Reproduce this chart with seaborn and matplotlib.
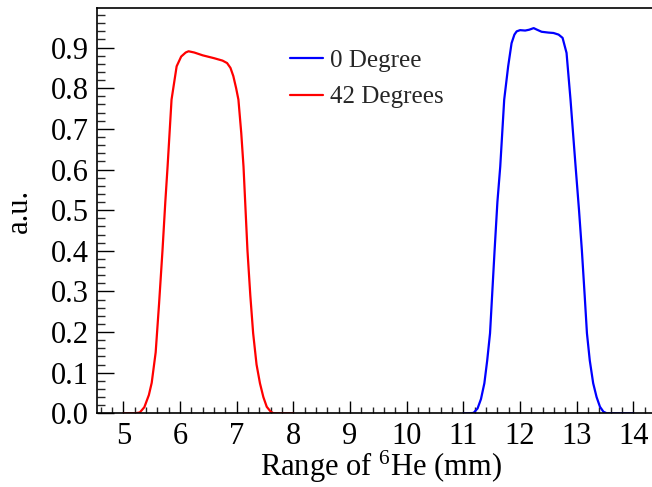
import numpy as np
import pandas as pd
import matplotlib
matplotlib.use("Agg")
import matplotlib.pyplot as plt
from matplotlib.ticker import MultipleLocator
import seaborn as sns

# ---- data ----
x_42 = [5.0, 5.1, 5.2, 5.29, 5.37, 5.45, 5.5, 5.57, 5.63, 5.69, 5.74, 5.78, 5.85,
        5.94, 6.02, 6.1, 6.15, 6.25, 6.4, 6.6, 6.75, 6.83, 6.89, 6.94, 6.99, 7.03,
        7.08, 7.12, 7.19, 7.24, 7.29, 7.35, 7.41, 7.47, 7.53, 7.6, 7.65, 7.8, 8.0]
y_42 = [0.0, 0.0, 0.0, 0.002, 0.015, 0.045, 0.075, 0.15, 0.27, 0.40, 0.52, 0.607, 0.772,
        0.854, 0.878, 0.888, 0.891, 0.888, 0.881, 0.874, 0.868, 0.862, 0.850, 0.83, 0.80, 0.772,
        0.69, 0.607, 0.40, 0.29, 0.197, 0.12, 0.074, 0.04, 0.016, 0.004, 0.0, 0.0, 0.0]

x_0 = [11.0, 11.1, 11.18, 11.25, 11.31, 11.37, 11.42, 11.47, 11.55, 11.6, 11.65, 11.72,
       11.79, 11.85, 11.9, 11.94, 12.0, 12.09, 12.16, 12.24, 12.3, 12.38, 12.5, 12.59,
       12.68, 12.75, 12.82, 12.89, 12.94, 12.98, 13.04, 13.09, 13.14, 13.18, 13.23,
       13.29, 13.35, 13.41, 13.47, 13.53, 13.7, 14.0]
y_0 = [0.0, 0.0, 0.001, 0.012, 0.035, 0.074, 0.13, 0.197, 0.40, 0.52, 0.607, 0.772,
       0.854, 0.911, 0.932, 0.940, 0.943, 0.942, 0.944, 0.948, 0.944, 0.939, 0.937, 0.936,
       0.932, 0.924, 0.887, 0.772, 0.68, 0.607, 0.50, 0.402, 0.29, 0.197, 0.13,
       0.074, 0.04, 0.016, 0.004, 0.0, 0.0, 0.0]

labels = ["0 Degree", "42 Degrees"]
colors = ["#0000ff", "#ff0000"]
x_ticks = [5, 6, 7, 8, 9, 10, 11, 12, 13, 14]
y_ticks = [0.0, 0.1, 0.2, 0.3, 0.4, 0.5, 0.6, 0.7, 0.8, 0.9]

df = pd.concat([
    pd.DataFrame({"range": x_0, "au": y_0, "angle": labels[0]}),
    pd.DataFrame({"range": x_42, "au": y_42, "angle": labels[1]}),
], ignore_index=True)

sns.set_theme(style="white")
plt.rcParams["font.family"] = ["Liberation Serif", "DejaVu Serif"]
plt.rcParams["mathtext.fontset"] = "custom"
plt.rcParams["mathtext.rm"] = "Liberation Serif"
plt.rcParams["mathtext.it"] = "Liberation Serif:italic"

fig = plt.figure(figsize=(6.52, 4.87), dpi=100)
ax = fig.add_axes([97.3 / 652, 73.7 / 487, 567 / 652, 405.3 / 487])

sns.lineplot(data=df, x="range", y="au", hue="angle", hue_order=labels,
             palette=dict(zip(labels, colors)), sort=False, estimator=None,
             linewidth=1.6, ax=ax)

ax.set_xlim(4.54, 14.545)
ax.set_ylim(0, 0.9975)
ax.xaxis.set_minor_locator(MultipleLocator(0.2))
ax.yaxis.set_minor_locator(MultipleLocator(0.02))
ax.set_xticks(x_ticks)
ax.set_xticklabels([str(v) for v in x_ticks])
ax.set_yticks(y_ticks)
ax.set_yticklabels([f"{v:.1f}" for v in y_ticks])

ax.tick_params(axis="x", which="major", direction="in", length=8.6, width=1.0,
               labelsize=22, pad=6, colors="black", bottom=True, top=False)
ax.tick_params(axis="x", which="minor", direction="in", length=4.3, width=1.0,
               bottom=True, top=False)
ax.tick_params(axis="y", which="major", direction="in", length=12, width=1.0,
               labelsize=22, pad=6, colors="black", left=True, right=False)
ax.tick_params(axis="y", which="minor", direction="in", length=6, width=1.0,
               left=True, right=False)

for s in ["left", "bottom", "top"]:
    ax.spines[s].set_color("black")
    ax.spines[s].set_linewidth(1.2)
ax.spines["right"].set_visible(False)

ax.set_xlabel(r"Range of $^{6}$He (mm)", fontsize=22, color="black", labelpad=-1)
ax.set_ylabel("a.u.", fontsize=22, color="black", labelpad=12)

ax.legend(loc="upper left", bbox_to_anchor=(290 / 652, 1 - 49.5 / 487),
          bbox_transform=fig.transFigure, frameon=False, fontsize=18,
          handlelength=1.32, handletextpad=0.28, labelspacing=0.56,
          borderpad=0, borderaxespad=0)

fig.savefig("out.png", dpi=100)
